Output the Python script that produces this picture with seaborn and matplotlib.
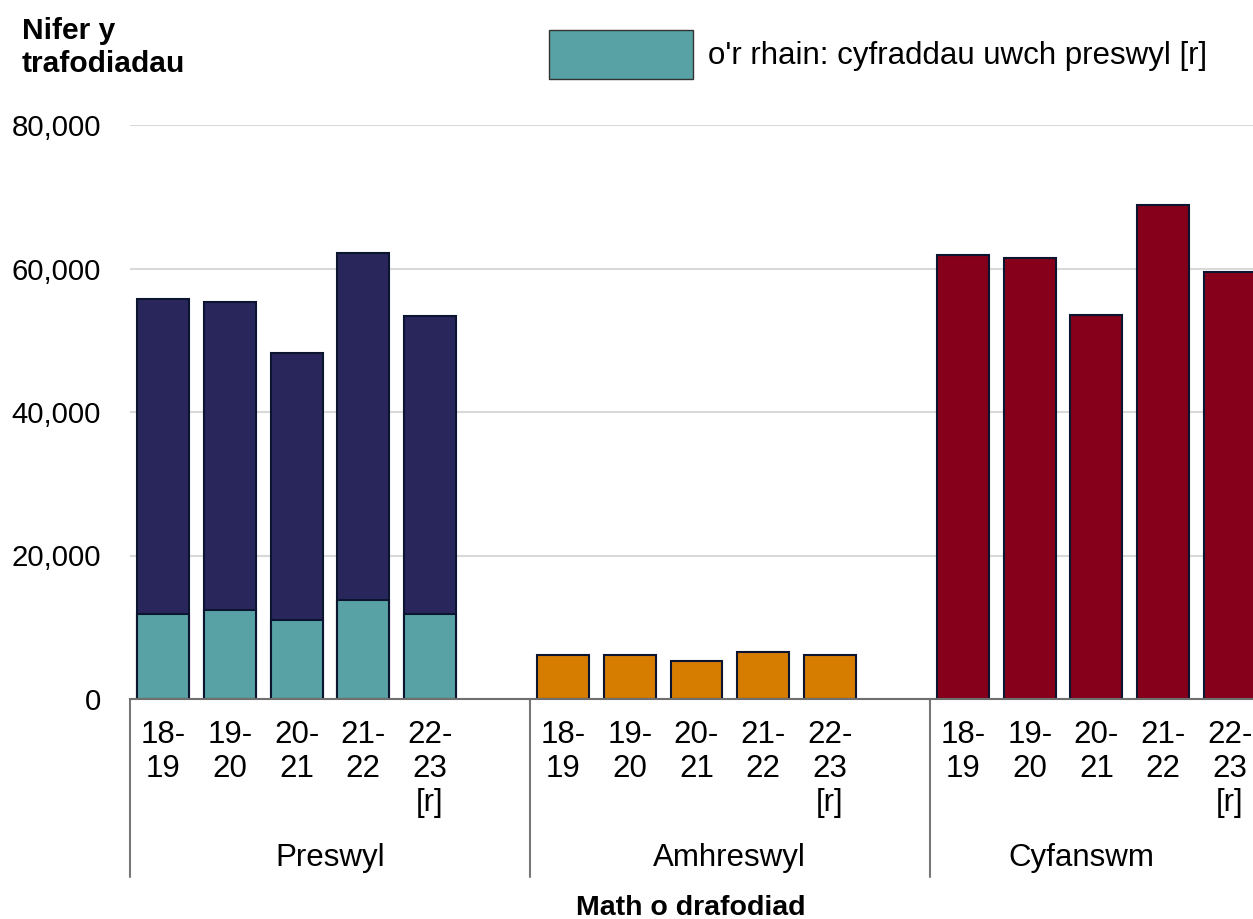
import matplotlib
matplotlib.use("Agg")
from matplotlib import pyplot as plt
from matplotlib.patches import Patch
import pandas as pd
import seaborn as sns

years = ['18-\n19', '19-\n20', '20-\n21', '21-\n22', '22-\n23\n[r]']
groups = ['Preswyl', 'Amhreswyl', 'Cyfanswm']
preswyl = [55800, 55300, 48200, 62200, 53400]
preswyl_uwch = [11900, 12400, 11000, 13800, 11900]
amhreswyl = [6150, 6150, 5350, 6600, 6150]
cyfanswm = [61950, 61500, 53500, 68900, 59550]
legend_label = "o'r rhain: cyfraddau uwch preswyl [r]"

NAVY = '#29265B'
TEAL = '#58A2A5'
ORANGE = '#D67D00'
CRIMSON = '#86001C'
EDGE = '#0B1530'


def main():
    sns.set_theme(style='white')
    plt.rcParams['font.family'] = ['Liberation Sans', 'DejaVu Sans']
    plt.rcParams['text.color'] = 'black'

    fig = plt.figure(figsize=(12.53, 9.19), dpi=100)
    ax = fig.add_axes([130 / 1253, 220 / 919, 1 - 130 / 1253, 574 / 919])

    series = [preswyl, amhreswyl, cyfanswm]
    colours = [NAVY, ORANGE, CRIMSON]
    for g, (vals, col) in enumerate(zip(series, colours)):
        pos = [g * 6 + i for i in range(len(vals))]
        df = pd.DataFrame({'pos': pos, 'value': vals})
        sns.barplot(data=df, x='pos', y='value', native_scale=True, width=0.78,
                    color=col, saturation=1, edgecolor=EDGE, linewidth=1.5, ax=ax)

    df_u = pd.DataFrame({'pos': list(range(5)), 'value': preswyl_uwch})
    sns.barplot(data=df_u, x='pos', y='value', native_scale=True, width=0.78,
                color=TEAL, saturation=1, edgecolor=EDGE, linewidth=1.5, ax=ax)

    ax.set_xlim(-0.5, 16.35)
    ax.set_ylim(0, 80000)
    ax.set_yticks([0, 20000, 40000, 60000, 80000])
    ax.set_yticklabels(['0', '20,000', '40,000', '60,000', '80,000'])
    ax.yaxis.grid(True, color='#d9d9d9', linewidth=1.5)
    ax.set_axisbelow(True)

    ticks = [g * 6 + i for g in range(3) for i in range(5)]
    ax.set_xticks(ticks)
    ax.set_xticklabels(years * 3, va='top', linespacing=1.17)
    ax.tick_params(axis='x', length=0, pad=15, labelsize=22.5, colors='black')
    ax.tick_params(axis='y', length=0, pad=21, labelsize=21.2, colors='black')
    ax.set_xlabel('')
    ax.set_ylabel('')

    for side in ['top', 'right', 'left']:
        ax.spines[side].set_visible(False)
    ax.spines['bottom'].set_color('#6f6f6f')
    ax.spines['bottom'].set_linewidth(1.5)

    # group separators below the axis
    trans = ax.get_xaxis_transform()
    y_low = (42 / 919 - 220 / 919) / (574 / 919)
    for x in [-0.5, 5.5, 11.5]:
        ax.plot([x, x], [0, y_low], transform=trans, color='#777777',
                linewidth=1.5, clip_on=False)
    y_grp = (61 / 919 - 220 / 919) / (574 / 919)
    for x, name in zip([2.5, 8.5, 13.77], groups):
        ax.text(x, y_grp, name, transform=trans, ha='center', va='center',
                fontsize=22.5)

    fig.text(691 / 1253, 1 - 908 / 919, 'Math o drafodiad', ha='center',
             va='center', fontsize=20.5, fontweight='bold')
    fig.text(22 / 1253, 1 - 17 / 919, 'Nifer y\ntrafodiadau', ha='left',
             va='top', fontsize=21.6, fontweight='bold', linespacing=1.25)

    handle = Patch(facecolor=TEAL, edgecolor='#333333', linewidth=1)
    fig.legend([handle], [legend_label], loc='upper left',
               bbox_to_anchor=(549 / 1253, 1 - 30 / 919), frameon=False,
               fontsize=22.5, handlelength=4.6, handleheight=2.04,
               handletextpad=0.49, borderpad=0, borderaxespad=0)

    fig.savefig('out.png', dpi=100)


if __name__ == '__main__':
    main()
